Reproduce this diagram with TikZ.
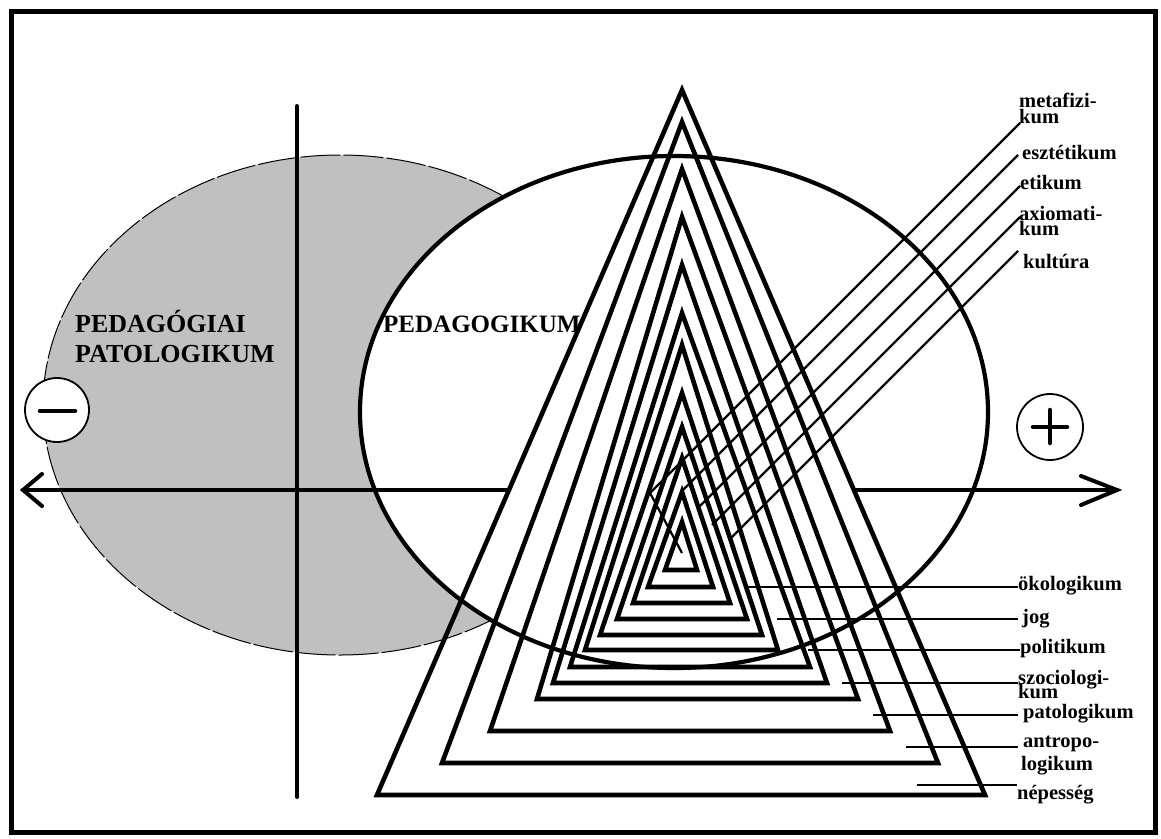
\documentclass[tikz,border=0pt]{standalone}
\usepackage{fontspec}
\setmainfont{Liberation Serif}
\definecolor{shade}{RGB}{192,192,192}
\begin{document}
\begin{tikzpicture}[x=1pt,y=-1pt,
  tri/.style={line width=4.6pt, line join=miter},
  lead/.style={line width=2.2pt},
  axisline/.style={line width=4pt, line cap=round, line join=miter},
  lbl/.style={font=\bfseries\fontsize{20.5}{20}\selectfont, anchor=base west, inner sep=0pt},
  big/.style={font=\bfseries\fontsize{26}{30}\selectfont, anchor=base west, inner sep=0pt},
  sign/.style={circle, draw, line width=1.8pt, fill=white, minimum size=64pt, inner sep=0pt}]
\useasboundingbox (0,0) rectangle (1161,838);
\fill[white] (0,0) rectangle (1161,838);
\draw[line width=5pt] (11,11) rectangle (1155,832);
% grey ellipse
\filldraw[fill=shade, draw=black, line width=1pt, dash pattern=on 40pt off 3pt]
  (340,405) ellipse [x radius=297pt, y radius=250pt];
% vertical axis
\draw[axisline] (297,106) -- (297,797);
% white ellipse
\filldraw[fill=white, draw=black, line width=4.2pt] (674,412) ellipse [x radius=314pt, y radius=256pt];
% horizontal axis
\coordinate (axL) at (23,490);
\coordinate (axR) at (1117,490);
\coordinate (axLin) at (509,490);
\coordinate (axRin) at (854,490);
\draw[axisline] (axLin) -- (axL);
\draw[axisline] (42,474) -- (axL) -- (42,506);
\draw[axisline] (axRin) -- (axR);
\draw[axisline] (1081,476) -- (axR) -- (1081,505);
% sign circles
\node[sign] (minus) at (57,410) {};
\draw[line width=4.5pt, line cap=round] (40,411) -- (75,411);
\node[sign, minimum size=66pt] (plus) at (1050,427) {};
\draw[line width=4.5pt, line cap=round] (1033,427) -- (1067,427) (1050,410) -- (1050,443);
% triangles
\foreach \a/\b/\l/\r in {90/795/377/985, 122/763/442/938, 169/731/490/890, 217/699/537/858,
  265/683/553/827, 313/667/570/810, 345/650/585/778, 393/635/600/762,
  427/619/617/747, 458/603/633/730, 492/587/648/713, 522/570/665/697}
  \draw[tri] (682,\a) -- (\r,\b) -- (\l,\b) -- cycle;
% big texts
\node[big] (pp1) at (75,332) {PEDAGÓGIAI};
\node[big] (pp2) at (75,362) {PATOLOGIKUM};
\node[big, font=\bfseries\fontsize{25}{30}\selectfont] (ped) at (383,332) {PEDAGOGIKUM};
% top labels
\node[lbl] (meta1) at (1019,107) {metafizi-};
\node[lbl] (meta2) at (1019,123) {kum};
\node[lbl] (eszt) at (1022,159) {esztétikum};
\node[lbl] (etik) at (1020,189) {etikum};
\node[lbl] (axio1) at (1019,220) {axiomati-};
\node[lbl] (axio2) at (1019,235) {kum};
\node[lbl] (kult) at (1023,268) {kultúra};
\coordinate (mTop) at (1020,123);
\coordinate (mBend) at (650,493);
\coordinate (mEnd) at (682,553);
\draw[lead] (mTop) -- (mBend) -- (mEnd);
\coordinate (eTop) at (1018,155);
\coordinate (eEnd) at (682,491);
\draw[lead] (eTop) -- (eEnd);
\coordinate (tTop) at (1020,186);
\coordinate (tEnd) at (700,506);
\draw[lead] (tTop) -- (tEnd);
\coordinate (xTop) at (1020,217);
\coordinate (xEnd) at (712,525);
\draw[lead] (xTop) -- (xEnd);
\coordinate (kTop) at (1018,251);
\coordinate (kEnd) at (731,538);
\draw[lead] (kTop) -- (kEnd);
% bottom labels
\node[lbl] (oko) at (1018,590) {ökologikum};
\node[lbl] (jog) at (1022,623) {jog};
\node[lbl] (pol) at (1020,653) {politikum};
\node[lbl] (szo1) at (1018,684) {szociologi-};
\node[lbl] (szo2) at (1018,698) {kum};
\node[lbl] (pat) at (1023,718) {patologikum};
\node[lbl] (ant1) at (1023,747) {antropo-};
\node[lbl] (ant2) at (1021,770) {logikum};
\node[lbl] (nep) at (1017,799) {népesség};
\coordinate (okoS) at (748,587);
\draw[lead] (okoS) -- (okoS -| oko.west);
\coordinate (jogS) at (777,619);
\draw[lead] (jogS) -- (1018,619);
\coordinate (polS) at (808,650);
\draw[lead] (polS) -- (polS -| pol.west);
\coordinate (szoS) at (842,683);
\draw[lead] (szoS) -- (szoS -| szo1.west);
\coordinate (patS) at (873,715);
\draw[lead] (patS) -- (1018,715);
\coordinate (antS) at (906,747);
\draw[lead] (antS) -- (1018,747);
\coordinate (nepS) at (917,785);
\draw[lead] (nepS) -- (nepS -| nep.west);
\end{tikzpicture}
\end{document}
